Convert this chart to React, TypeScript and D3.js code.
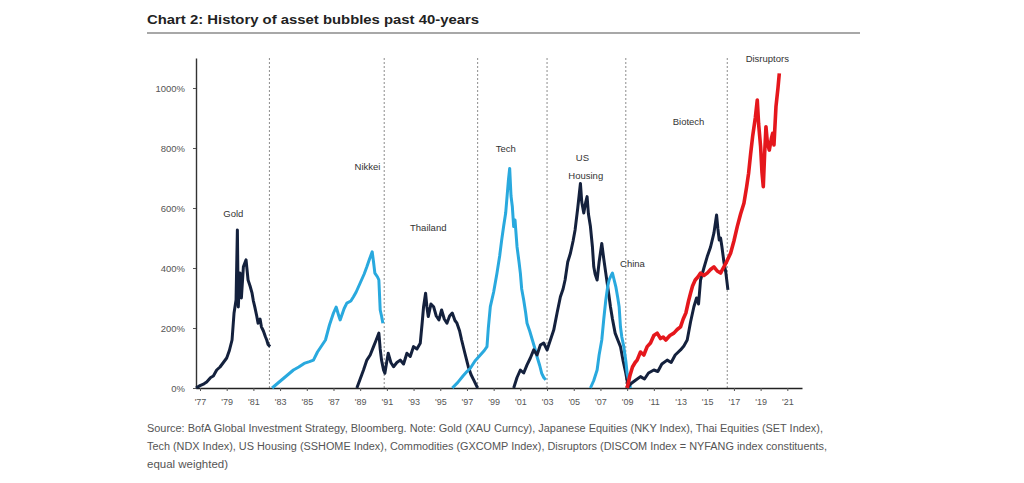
import { useEffect, useRef } from "react";
import * as d3 from "d3";

type Pt = [number, number];

const titleText = "Chart 2: History of asset bubbles past 40-years";

const sourceLines = [
  "Source:  BofA Global Investment Strategy, Bloomberg. Note: Gold (XAU Curncy), Japanese Equities (NKY Index), Thai Equities (SET Index),",
  "Tech (NDX Index), US Housing (SSHOME Index), Commodities (GXCOMP Index), Disruptors (DISCOM Index = NYFANG index constituents,",
  "equal weighted)",
];

const yTicks = [0, 200, 400, 600, 800, 1000];
const xTickYears = [1977, 1979, 1981, 1983, 1985, 1987, 1989, 1991, 1993, 1995, 1997, 1999, 2001, 2003, 2005, 2007, 2009, 2011, 2013, 2015, 2017, 2019, 2021];
const xTickLabels = ["'77", "'79", "'81", "'83", "'85", "'87", "'89", "'91", "'93", "'95", "'97", "'99", "'01", "'03", "'05", "'07", "'09", "'11", "'13", "'15", "'17", "'19", "'21"];

// vertical dotted separators between episodes (decimal years)
const dividerYears = [1982.2, 1990.8, 1997.8, 2003.0, 2008.9, 2016.5];

// series: [decimal year, % gain]
const gold: Pt[] = [
  [1976.7, 0], [1977.0, 8], [1977.3, 14], [1977.5, 20], [1977.8, 35], [1978.0, 40], [1978.25, 60], [1978.5, 70],
  [1978.75, 85], [1979.0, 100], [1979.2, 125], [1979.4, 160], [1979.55, 250], [1979.7, 293], [1979.8, 527], [1979.85, 330],
  [1979.87, 270], [1979.95, 350], [1980.0, 383], [1980.1, 300], [1980.25, 404], [1980.45, 427], [1980.6, 360], [1980.75, 340],
  [1980.9, 316], [1981.0, 290], [1981.1, 271], [1981.25, 240], [1981.35, 216], [1981.5, 230], [1981.6, 204], [1981.75, 190],
  [1981.9, 171], [1982.0, 160], [1982.1, 145], [1982.25, 138],
];

const nikkei: Pt[] = [
  [1982.4, 0], [1982.8, 15], [1983.2, 30], [1983.6, 45], [1984.0, 60], [1984.4, 70], [1984.8, 82], [1985.2, 88],
  [1985.5, 93], [1985.8, 120], [1986.1, 140], [1986.4, 160], [1986.7, 210], [1987.0, 250], [1987.2, 270], [1987.4, 240],
  [1987.5, 227], [1987.8, 265], [1988.0, 283], [1988.3, 290], [1988.5, 304], [1988.7, 320], [1989.0, 350], [1989.3, 380],
  [1989.5, 404], [1989.7, 430], [1989.9, 454], [1990.0, 420], [1990.1, 383], [1990.3, 370], [1990.4, 360], [1990.5, 260],
  [1990.6, 240], [1990.7, 216],
];

const thailand: Pt[] = [
  [1988.75, 0], [1989.0, 30], [1989.25, 60], [1989.5, 93], [1989.75, 110], [1990.0, 138], [1990.2, 160], [1990.4, 183],
  [1990.5, 130], [1990.6, 93], [1990.75, 60], [1990.85, 49], [1991.0, 90], [1991.1, 116], [1991.3, 85], [1991.5, 71],
  [1991.75, 85], [1992.0, 93], [1992.25, 80], [1992.5, 116], [1992.75, 105], [1993.0, 138], [1993.25, 130], [1993.5, 149],
  [1993.65, 220], [1993.75, 271], [1993.9, 316], [1994.0, 270], [1994.1, 238], [1994.3, 280], [1994.5, 271], [1994.7, 240],
  [1994.9, 227], [1995.1, 260], [1995.3, 230], [1995.5, 216], [1995.7, 240], [1995.9, 250], [1996.1, 225], [1996.25, 216],
  [1996.45, 190], [1996.6, 160], [1996.85, 115], [1997.1, 71], [1997.3, 45], [1997.5, 27], [1997.8, 0],
];

const tech: Pt[] = [
  [1995.9, 0], [1996.3, 18], [1996.7, 40], [1997.0, 55], [1997.25, 66], [1997.6, 90], [1998.0, 110], [1998.3, 125],
  [1998.5, 138], [1998.6, 200], [1998.75, 271], [1999.0, 320], [1999.25, 383], [1999.45, 440], [1999.6, 493], [1999.75, 540],
  [1999.9, 583], [2000.1, 690], [2000.2, 732], [2000.3, 640], [2000.4, 604], [2000.5, 538], [2000.6, 560], [2000.75, 471],
  [2000.9, 420], [2001.0, 383], [2001.1, 330], [2001.25, 293], [2001.4, 250], [2001.5, 216], [2001.7, 190], [2001.9, 160],
  [2002.1, 130], [2002.25, 104], [2002.45, 75], [2002.6, 49], [2002.75, 35], [2002.9, 27],
];

const usHousing: Pt[] = [
  [2000.5, 0], [2000.75, 35], [2001.0, 60], [2001.25, 50], [2001.5, 77], [2001.75, 100], [2002.0, 127], [2002.25, 110],
  [2002.5, 143], [2002.75, 150], [2003.0, 127], [2003.25, 160], [2003.5, 193], [2003.75, 250], [2004.0, 304], [2004.2, 330],
  [2004.35, 360], [2004.55, 420], [2004.75, 449], [2004.95, 490], [2005.1, 527], [2005.3, 600], [2005.5, 682], [2005.6, 620],
  [2005.75, 583], [2005.9, 620], [2006.0, 638], [2006.1, 580], [2006.25, 538], [2006.4, 470], [2006.5, 404], [2006.6, 380],
  [2006.75, 360], [2006.9, 420], [2007.1, 482], [2007.25, 430], [2007.4, 383], [2007.6, 320], [2007.75, 271], [2007.9, 230],
  [2008.1, 183], [2008.3, 160], [2008.5, 138], [2008.7, 90], [2008.9, 49], [2009.1, 0],
];

const china: Pt[] = [
  [2006.25, 0], [2006.5, 25], [2006.75, 60], [2006.9, 110], [2007.1, 160], [2007.25, 230], [2007.4, 293], [2007.55, 340],
  [2007.65, 360], [2007.8, 375], [2007.9, 383], [2008.0, 365], [2008.15, 338], [2008.3, 300], [2008.4, 271], [2008.5, 204],
  [2008.6, 170], [2008.75, 138], [2008.9, 90], [2009.0, 49], [2009.25, 0],
];

const biotech: Pt[] = [
  [2009.0, 0], [2009.3, 15], [2009.6, 25], [2010.0, 38], [2010.3, 30], [2010.6, 50], [2011.0, 60], [2011.3, 55],
  [2011.6, 80], [2012.0, 93], [2012.3, 85], [2012.6, 110], [2013.0, 127], [2013.25, 140], [2013.5, 160], [2013.75, 220],
  [2014.0, 271], [2014.2, 300], [2014.35, 280], [2014.5, 360], [2014.75, 400], [2015.0, 438], [2015.25, 470], [2015.5, 516],
  [2015.7, 577], [2015.8, 530], [2015.9, 493], [2016.0, 500], [2016.1, 471], [2016.25, 420], [2016.4, 383], [2016.55, 327],
];

const disruptors: Pt[] = [
  [2009.0, 0], [2009.2, 40], [2009.4, 70], [2009.6, 85], [2009.75, 93], [2010.0, 120], [2010.25, 110], [2010.5, 138],
  [2010.75, 150], [2011.0, 175], [2011.25, 183], [2011.5, 165], [2011.7, 170], [2011.9, 160], [2012.2, 175], [2012.5, 183],
  [2012.75, 195], [2013.0, 204], [2013.2, 230], [2013.4, 250], [2013.6, 290], [2013.75, 316], [2013.9, 340], [2014.1, 360],
  [2014.3, 370], [2014.5, 383], [2014.75, 375], [2015.0, 383], [2015.25, 395], [2015.5, 404], [2015.75, 390], [2016.0, 383],
  [2016.2, 400], [2016.4, 416], [2016.6, 435], [2016.75, 449], [2017.0, 490], [2017.25, 538], [2017.5, 580], [2017.75, 616],
  [2017.95, 670], [2018.1, 716], [2018.25, 780], [2018.4, 838], [2018.6, 900], [2018.75, 960], [2018.85, 880], [2019.0, 804],
  [2019.1, 720], [2019.2, 671], [2019.3, 780], [2019.4, 871], [2019.5, 820], [2019.65, 793], [2019.8, 830], [2019.9, 849],
  [2020.0, 810], [2020.15, 938], [2020.3, 1000], [2020.4, 1049],
];

// annotation text and the data point it sits at
const labelNames = ["Gold", "Nikkei", "Thailand", "Tech", "US", "Housing", "China", "Biotech", "Disruptors"];
const labelYears = [1979.5, 1989.55, 1994.1, 1999.9, 2005.65, 2005.9, 2009.4, 2013.6, 2019.5];
const labelValues = [580, 737, 533, 797, 767, 707, 413, 887, 1097];

const NAVY = "#14213d";
const LIGHT = "#29a9de";
const RED = "#e5171c";

export default function App() {
  const svgRef = useRef<SVGSVGElement>(null);
  const width = 1024;
  const height = 483;

  useEffect(() => {
    const svg = d3.select(svgRef.current);
    svg.selectAll("*").remove();

    const font = "'Liberation Sans', Arial, sans-serif";

    svg.append("rect").attr("width", width).attr("height", height).attr("fill", "#fff");

    // title + rule
    svg
      .append("text")
      .attr("x", 147)
      .attr("y", 24)
      .attr("font-family", font)
      .attr("font-weight", "bold")
      .attr("font-size", 12.5)
      .attr("fill", "#222")
      .attr("textLength", 332)
      .attr("lengthAdjust", "spacingAndGlyphs")
      .text(titleText);
    svg
      .append("line")
      .attr("x1", 147)
      .attr("x2", 860)
      .attr("y1", 33)
      .attr("y2", 33)
      .attr("stroke", "#a8a8a8")
      .attr("stroke-width", 2);

    const x = d3.scaleLinear().domain([1976.7, 2022.1]).range([196, 802]);
    const y = d3.scaleLinear().domain([0, 1100]).range([388, 58]);

    // dotted separators
    svg
      .append("g")
      .selectAll("line")
      .data(dividerYears)
      .join("line")
      .attr("x1", (d) => x(d))
      .attr("x2", (d) => x(d))
      .attr("y1", y(1100))
      .attr("y2", y(0))
      .attr("stroke", "#8c8c8c")
      .attr("stroke-width", 1)
      .attr("stroke-dasharray", "2,2");

    // axes
    const xAxis = svg
      .append("g")
      .attr("transform", `translate(0,${y(0)})`)
      .call(
        d3
          .axisBottom(x)
          .tickValues(xTickYears)
          .tickFormat((_d, i) => xTickLabels[i])
          .tickSize(3)
          .tickSizeOuter(0)
          .tickPadding(8)
      );
    xAxis.select(".domain").attr("stroke", "#222").attr("stroke-width", 1.6);
    xAxis.selectAll(".tick line").attr("stroke", "#555");
    xAxis.selectAll("text").attr("font-family", font).attr("font-size", 9).attr("fill", "#555");

    const yAxis = svg
      .append("g")
      .attr("transform", `translate(${x(1976.7)},0)`)
      .call(
        d3
          .axisLeft(y)
          .tickValues(yTicks)
          .tickFormat((d) => `${d}%`)
          .tickSize(3)
          .tickSizeOuter(0)
          .tickPadding(8)
      );
    yAxis.select(".domain").attr("stroke", "#333").attr("stroke-width", 1.4);
    yAxis.selectAll(".tick line").attr("stroke", "#555");
    yAxis.selectAll("text").attr("font-family", font).attr("font-size", 9.5).attr("fill", "#555");

    // series
    const line = d3
      .line<Pt>()
      .x((d) => x(d[0]))
      .y((d) => y(d[1]));

    const seriesList = [
      { data: gold, color: NAVY, w: 3 },
      { data: nikkei, color: LIGHT, w: 3 },
      { data: thailand, color: NAVY, w: 3 },
      { data: tech, color: LIGHT, w: 3 },
      { data: usHousing, color: NAVY, w: 3 },
      { data: china, color: LIGHT, w: 3 },
      { data: biotech, color: NAVY, w: 3 },
      { data: disruptors, color: RED, w: 3.6 },
    ];

    svg
      .append("g")
      .selectAll("path")
      .data(seriesList)
      .join("path")
      .attr("fill", "none")
      .attr("stroke", (d) => d.color)
      .attr("stroke-width", (d) => d.w)
      .attr("stroke-linejoin", "round")
      .attr("d", (d) => line(d.data));

    // episode labels
    svg
      .append("g")
      .selectAll("text")
      .data(labelNames)
      .join("text")
      .attr("x", (_d, i) => x(labelYears[i]))
      .attr("y", (_d, i) => y(labelValues[i]))
      .attr("dy", "0.35em")
      .attr("text-anchor", "middle")
      .attr("font-family", font)
      .attr("font-size", 9.5)
      .attr("fill", "#333")
      .text((d) => d);

    // source note
    const lens = [676, 680, 81];
    svg
      .append("g")
      .selectAll("text")
      .data(sourceLines)
      .join("text")
      .attr("x", 147)
      .attr("y", (_d, i) => 432 + i * 18)
      .attr("font-family", font)
      .attr("font-size", 10)
      .attr("fill", "#555")
      .attr("textLength", (_d, i) => lens[i])
      .attr("lengthAdjust", "spacingAndGlyphs")
      .text((d) => d);
  }, []);

  return (
    <svg
      ref={svgRef}
      width={width}
      height={height}
      style={{ position: "absolute", left: 0, top: 0, display: "block" }}
    />
  );
}
